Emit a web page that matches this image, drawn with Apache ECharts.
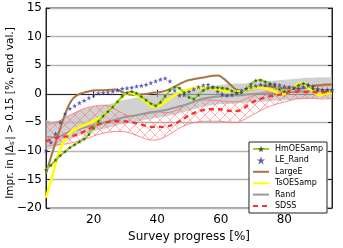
<!DOCTYPE html>
<html><head><meta charset="utf-8">
<script src="https://cdn.jsdelivr.net/npm/echarts@6/dist/echarts.min.js"></script>
<style>html,body{margin:0;padding:0;background:#fff}#c{width:343px;height:248px}</style>
</head><body><div id="c"></div>
<script>
const xMark = [5,6.5,8,9.5,11,12.5,14,15.5,17,18.5,20,21.5,23,24.5,26,27.5,29,30.5,32,33.5,35,36.5,38,39.5,41,42.5,44,45.5,47,48.5,50,51.5,53,54.5,56,57.5,59,60.5,62,63.5,65,66.5,68,69.5,71,72.5,74,75.5,77,78.5,80,81.5,83,84.5,86,87.5,89,90.5,92,93.5,95];
const xLine = [5,7,9,11,13,15,17,19,21,23,25,27,29,31,33,35,37,39,41,43,45,47,49,51,53,55,57,59,61,63,65,67,69,71,73,75,77,79,81,83,85,87,89,91,93,95];

const hmOESamp = [-13.3,-12.5,-11.6,-10.8,-10.1,-9.4,-8.9,-8.4,-7.9,-7.1,-6.0,-4.8,-3.9,-3.1,-2.3,-1.4,-0.4,0.2,0.4,0.1,-0.5,-1.1,-1.7,-2.1,-1.5,-0.4,0.6,1.2,1.0,0.2,-0.6,-0.9,-0.2,0.6,1.0,1.1,1.1,1.0,0.9,0.5,0.1,0.2,0.9,1.7,2.3,2.4,2.1,1.8,1.4,0.8,0.4,0.5,1.0,1.5,1.8,1.6,0.9,0.6,0.6,0.6,0.6];
const leRand = [-10,-8.5,-7,-5,-3.5,-2.6,-2.1,-1.6,-1.2,-0.7,-0.2,0.1,0.2,0.3,0.4,0.6,0.9,1.0,1.1,1.3,1.4,1.6,1.9,2.2,2.5,2.7,2.2,0.6,-0.3,-0.2,0.4,0.8,1.2,1.5,1.6,1.2,0.4,-0.1,-0.3,-0.2,0.2,0.6,0.9,1.2,1.4,1.6,1.5,1.6,1.7,1.5,1.3,1.2,1.0,0.9,1.2,1.4,1.3,0.9,0.7,0.7,0.7];
const largeE = [-14.0,-10.3,-6.9,-3.6,-1.2,-0.2,0.2,0.5,0.6,0.6,0.7,0.75,0.3,-0.1,-0.2,-0.1,0.0,0.2,0.3,0.6,1.1,1.7,2.2,2.5,2.7,2.9,3.1,3.2,2.6,1.6,0.7,0.5,0.7,1.1,1.3,1.3,1.1,1.0,0.9,0.9,0.9,1.1,1.4,1.5,1.6,1.6];
const tsOESamp = [-18.2,-14.3,-10.4,-8.0,-6.6,-6.0,-5.5,-5.0,-4.5,-3.8,-2.8,-1.8,-0.6,0.2,-0.1,-0.8,-1.6,-2.3,-2.0,-1.2,-0.4,0.2,0.6,0.9,1.1,1.1,0.9,0.7,0.5,0.4,0.4,0.5,0.8,1.1,1.1,0.8,0.4,-0.1,0.2,1.1,1.8,1.3,0.4,-0.2,0.0,0.1];
const rand = [-7.5,-7.6,-7.5,-7.0,-6.5,-6.2,-5.9,-5.6,-5.4,-5.1,-4.8,-4.5,-4.2,-4.0,-3.8,-3.6,-3.4,-3.2,-3.0,-2.8,-2.5,-2.2,-1.9,-1.5,-1.1,-0.8,-0.6,-0.5,-0.4,-0.3,-0.3,-0.2,-0.1,0.0,0.0,0.1,0.1,0.2,0.3,0.3,0.4,0.4,0.5,0.5,0.6,0.6];
const randHi = [-4.6,-4.8,-4.7,-4.2,-3.6,-3.0,-2.6,-2.3,-2.1,-2.0,-1.8,-1.5,-1.2,-0.9,-0.7,-0.5,-0.3,-0.2,0.0,0.1,0.2,0.4,0.6,0.8,1.0,1.2,1.4,1.5,1.6,1.7,1.8,1.8,1.9,2.0,2.1,2.2,2.3,2.4,2.5,2.6,2.7,2.8,2.8,2.9,2.9,2.9];
const randLo = [-9.8,-9.6,-9.0,-8.3,-7.8,-7.4,-7.0,-6.7,-6.4,-6.2,-5.9,-5.6,-5.3,-5.1,-4.9,-4.7,-4.5,-4.3,-4.1,-3.9,-3.7,-3.4,-3.1,-2.8,-2.5,-2.2,-2.0,-1.9,-1.8,-1.8,-1.7,-1.6,-1.5,-1.5,-1.4,-1.3,-1.2,-1.2,-1.1,-1.0,-1.0,-0.9,-0.9,-0.8,-0.8,-0.8];
const sdss = [-8.3,-7.9,-7.6,-7.5,-7.4,-7.1,-6.6,-6.0,-5.5,-5.1,-4.9,-4.8,-4.8,-4.9,-5.1,-5.4,-5.7,-5.8,-5.8,-5.7,-5.4,-4.8,-4.1,-3.5,-3.1,-2.8,-2.7,-2.7,-2.8,-3.0,-3.0,-2.6,-1.8,-1.2,-0.8,-0.5,-0.3,-0.1,0.2,0.4,0.4,0.3,0.3,0.2,0.3,0.4];
const sdssHi = [-5.6,-5.2,-4.8,-4.2,-3.6,-3.1,-2.6,-2.3,-2.1,-2.0,-2.2,-2.8,-3.4,-3.8,-3.8,-3.5,-3.2,-3.1,-3.2,-3.3,-3.1,-2.6,-2.0,-1.5,-1.2,-1.1,-1.1,-1.2,-1.3,-1.4,-1.4,-1.1,-0.6,-0.2,0.2,0.5,0.7,0.9,1.1,1.3,1.4,1.4,1.3,1.3,1.4,1.5];
const sdssLo = [-9.2,-9.0,-8.9,-8.8,-8.6,-8.3,-8.0,-7.6,-7.2,-6.9,-6.7,-6.6,-6.6,-6.8,-7.2,-7.6,-8.0,-8.1,-7.9,-7.4,-6.7,-6.0,-5.5,-5.1,-4.9,-4.8,-4.8,-4.8,-4.9,-5.0,-5.0,-4.6,-4.0,-3.4,-2.8,-2.3,-1.9,-1.6,-1.3,-1.0,-0.8,-0.8,-0.8,-0.9,-0.9,-0.8];

const xTicks = [20,40,60,80];
const legendNames = ['HmOESamp','LE_Rand','LargeE','TsOESamp','Rand','SDSS'];

const pair = (xs, ys) => xs.map((x,i)=>[x,ys[i]]);
const star = 'path://M0,-10L2.35,-3.24L9.51,-3.09L3.8,1.24L5.88,8.09L0,4L-5.88,8.09L-3.8,1.24L-9.51,-3.09L-2.35,-3.24Z';
function hatch(){const c=document.createElement('canvas');c.width=10;c.height=10;const g=c.getContext('2d');g.strokeStyle='rgba(255,90,90,0.6)';g.lineWidth=0.8;g.beginPath();g.moveTo(0,0);g.lineTo(10,10);g.moveTo(10,0);g.lineTo(0,10);g.stroke();return c;}
const FONT = 'DejaVu Sans';
const fmt = v => v<0 ? '\u2212'+Math.abs(v) : String(v);

function band(name, lo, hi, fill, z){
  return {name, type:'custom', silent:true, z, clip:true, data:[[xLine[0], lo[0]]],
    renderItem:(params, api)=>{
      const pts=[];
      for(let i=0;i<xLine.length;i++) pts.push(api.coord([xLine[i], hi[i]]));
      for(let i=xLine.length-1;i>=0;i--) pts.push(api.coord([xLine[i], lo[i]]));
      return {type:'polygon', shape:{points:pts}, style:{fill, stroke:null}};
    }};
}

const chart = echarts.init(document.getElementById('c'), null, {renderer:'canvas'});
chart.setOption({
  animation:false,
  textStyle:{fontFamily:FONT},
  grid:{left:46, top:8, width:286, height:208, show:true, borderColor:'#222', borderWidth:1, backgroundColor:'transparent'},
  graphic:[{
    type:'text', x:10, y:113, rotation:Math.PI/2, silent:true,
    style:{text:'Impr. in |Δ{s|s′}| > 0.15 [%, end val.]', fontFamily:FONT, fontSize:10.5, fill:'#000',
      align:'center', verticalAlign:'middle',
      rich:{s:{fontSize:7, fontFamily:FONT, fill:'#000', padding:[4,0,0,0]}}}
  }],
  legend:{
    data:legendNames.map(n => (n==='HmOESamp'||n==='LE_Rand') ? {name:n} : {name:n, itemStyle:{opacity:0}}),
    orient:'vertical', right:16, top:142, itemWidth:16, itemHeight:8, itemGap:3.4,
    padding:[3,4,3,3], backgroundColor:'#fff', borderColor:'#222', borderWidth:1, borderRadius:0,
    textStyle:{fontFamily:FONT, fontSize:8, color:'#000', padding:[0,0,0,1]}
  },
  xAxis:[{
    type:'value', min:5, max:95, position:'bottom',
    name:'Survey progress [%]', nameLocation:'middle', nameGap:21,
    nameTextStyle:{fontFamily:FONT, fontSize:12, color:'#000'},
    axisLine:{show:true, lineStyle:{color:'#222', width:1}},
    axisTick:{show:true, inside:true, length:4, customValues:xTicks, lineStyle:{color:'#222'}},
    axisLabel:{show:true, customValues:xTicks, fontSize:12, color:'#000', margin:6, fontFamily:FONT},
    splitLine:{show:false}
  },{
    type:'value', min:5, max:95, position:'top',
    axisLine:{show:true, lineStyle:{color:'#222'}},
    axisTick:{show:true, inside:true, length:4, customValues:xTicks, lineStyle:{color:'#222'}},
    axisLabel:{show:false}, splitLine:{show:false}
  }],
  yAxis:[{
    type:'value', min:-20, max:15, interval:5, position:'left',
    axisLine:{show:true, lineStyle:{color:'#222'}},
    axisTick:{show:true, inside:true, length:4, lineStyle:{color:'#222'}},
    axisLabel:{fontSize:12, color:'#000', margin:4, formatter:fmt, fontFamily:FONT},
    splitLine:{show:true, lineStyle:{color:'#b4b4b4', width:1.3}}
  },{
    type:'value', min:-20, max:15, interval:5, position:'right',
    axisLine:{show:true, lineStyle:{color:'#222'}},
    axisTick:{show:true, inside:true, length:4, lineStyle:{color:'#222'}},
    axisLabel:{show:false}, splitLine:{show:false}
  }],
  series:[
    band('randBand', randLo, randHi, 'rgba(190,190,190,0.7)', 1),
    band('sdssBand', sdssLo, sdssHi, {image:hatch(), repeat:'repeat'}, 2),
    {name:'sdssLo', type:'line', data:pair(xLine, sdssLo), symbol:'none', smooth:true, lineStyle:{width:0.8, color:'#ff6a6a'}, z:2, silent:true},
    {name:'sdssHi', type:'line', data:pair(xLine, sdssHi), symbol:'none', smooth:true, lineStyle:{width:0.8, color:'#ff6a6a'}, z:2, silent:true},
    {name:'HmOESamp', type:'line', data:pair(xMark, hmOESamp), symbol:star, symbolSize:4, showSymbol:true,
      lineStyle:{color:'#9acd32', width:2}, itemStyle:{color:'#3a5f1a', borderWidth:0}, z:5},
    {name:'LE_Rand', type:'scatter', data:pair(xMark, leRand), symbol:star, symbolSize:5, itemStyle:{color:'#3c3ca0'}, z:6},
    {name:'LargeE', type:'line', data:pair(xLine, largeE), symbol:'none', smooth:true, lineStyle:{color:'#a87545', width:2}, itemStyle:{color:'#a87545'}, z:4},
    {name:'TsOESamp', type:'line', data:pair(xLine, tsOESamp), symbol:'none', smooth:true, lineStyle:{color:'#ffff00', width:2.6}, itemStyle:{color:'#ffff00'}, z:4},
    {name:'Rand', type:'line', data:pair(xLine, rand), symbol:'none', smooth:true, lineStyle:{color:'#999999', width:2}, itemStyle:{color:'#999999'}, z:3},
    {name:'SDSS', type:'line', data:pair(xLine, sdss), symbol:'none', smooth:true, lineStyle:{color:'#ff3030', width:2.4, type:[5,4]}, itemStyle:{color:'#ff3030'}, z:7}
  ]
});
</script></body></html>
